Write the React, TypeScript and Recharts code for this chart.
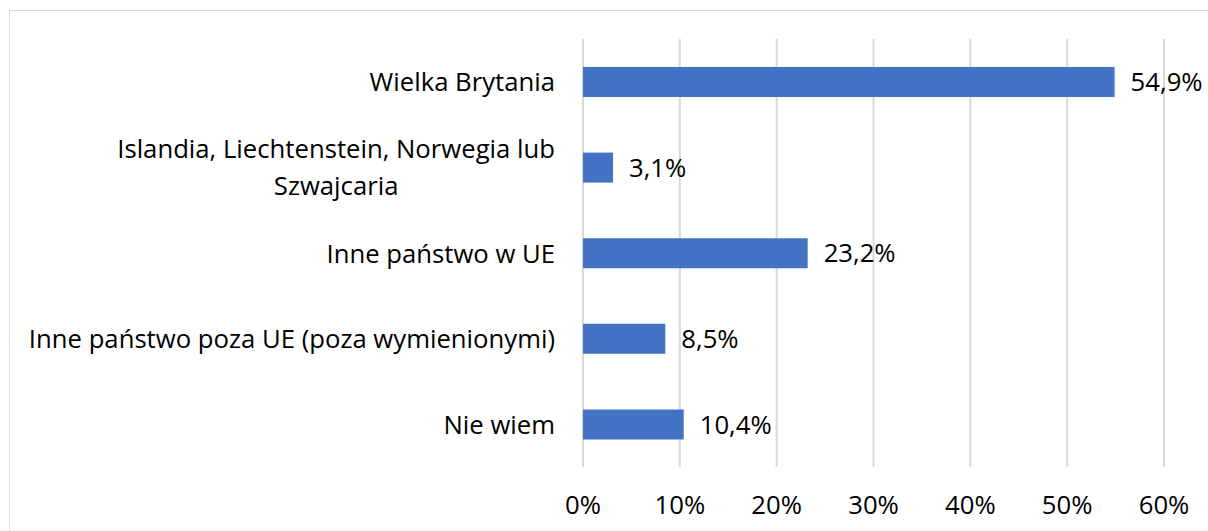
import React from 'react'
import { BarChart, Bar, XAxis, YAxis, CartesianGrid, LabelList } from 'recharts'

const categories = [
  'Wielka Brytania',
  'Islandia, Liechtenstein, Norwegia lub\nSzwajcaria',
  'Inne państwo w UE',
  'Inne państwo poza UE (poza wymienionymi)',
  'Nie wiem',
]
const shares = [54.9, 3.1, 23.2, 8.5, 10.4]
const xTicks = [0, 10, 20, 30, 40, 50, 60]

const data = categories.map((name, i) => ({ name, value: shares[i] }))

const FONT = '"Open Sans", sans-serif'
const FONT_SIZE = 25.7

let ctx: CanvasRenderingContext2D | null = null
function measure(s: string) {
  if (!ctx) ctx = document.createElement('canvas').getContext('2d')
  if (!ctx) return s.length * 13
  ctx.font = `${FONT_SIZE}px "Open Sans"`
  return ctx.measureText(s).width
}

function CategoryTick(props: any) {
  const { x, y, payload } = props
  const lines: string[] = String(payload.value).split('\n')
  const right = x - 20
  if (lines.length === 1) {
    return (
      <text x={right} y={y} textAnchor="end" dominantBaseline="central"
        fontFamily={FONT} fontSize={FONT_SIZE} fill="#000">
        {lines[0]}
      </text>
    )
  }
  const w = Math.max(...lines.map(measure))
  const cx = right - w / 2
  const lh = 37
  const top = y - ((lines.length - 1) * lh) / 2
  return (
    <g>
      {lines.map((l, i) => (
        <text key={i} x={cx} y={top + i * lh} textAnchor="middle" dominantBaseline="central"
          fontFamily={FONT} fontSize={FONT_SIZE} fill="#000">
          {l}
        </text>
      ))}
    </g>
  )
}

function PercentTick(props: any) {
  const { x, y, payload } = props
  return (
    <text x={x} y={y + 29} textAnchor="middle" dominantBaseline="central"
      fontFamily={FONT} fontSize={FONT_SIZE} fill="#000">
      {`${payload.value}%`}
    </text>
  )
}

export default function App() {
  return (
    <div style={{ position: 'absolute', left: 0, top: 0, width: 1208, height: 531, background: '#fff' }}>
      <div
        style={{
          position: 'absolute',
          left: 9,
          top: 10,
          width: 1199,
          height: 521,
          borderTop: '1px solid #d9d9d9',
          borderLeft: '1px solid #d9d9d9',
        }}
      />
      <div style={{ position: 'absolute', left: 0, top: 0 }}>
        <BarChart
          width={1208}
          height={531}
          data={data}
          layout="vertical"
          barSize={30}
          margin={{ top: 39, right: 44, bottom: 24, left: 0 }}
        >
          <CartesianGrid horizontal={false} stroke="#d9d9d9" strokeWidth={2} />
          <XAxis
            type="number"
            domain={[0, 60]}
            ticks={xTicks}
            axisLine={false}
            tickLine={false}
            height={40}
            tick={<PercentTick />}
            interval={0}
          />
          <YAxis
            type="category"
            dataKey="name"
            width={583}
            axisLine={false}
            tickLine={false}
            tick={<CategoryTick />}
            interval={0}
          />
          <Bar dataKey="value" fill="#4472C4" isAnimationActive={false}>
            <LabelList
              dataKey="value"
              position="right"
              offset={16}
              formatter={(v: any) => `${String(v).replace('.', ',')}%`}
              style={{ fontFamily: FONT, fontSize: FONT_SIZE, fill: '#000' }}
            />
          </Bar>
        </BarChart>
      </div>
    </div>
  )
}
